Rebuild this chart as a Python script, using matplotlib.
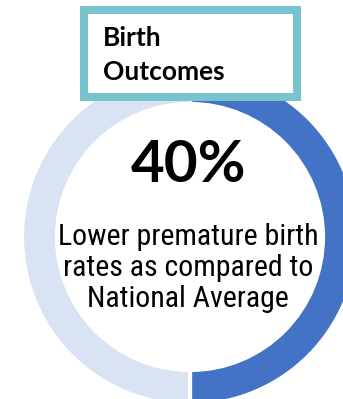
import matplotlib
matplotlib.use("Agg")
import matplotlib.pyplot as plt
from matplotlib.patches import Rectangle

# data
ring_labels = ["Lower", "Rest"]
ring_values = [50, 50]
ring_colors = ["#4472C4", "#DAE3F3"]
big_number = "40%"
caption = "Lower premature birth\nrates as compared to\nNational Average"
title = "Birth\nOutcomes"

W, H = 343, 399
fig = plt.figure(figsize=(W / 100, H / 100), dpi=100)
ax = fig.add_axes([0, 0, 1, 1])

# donut, center/radius in pixel units (y up)
cx, cy = 190, H - 237
r_out, r_in = 168, 133
ax.pie(ring_values, colors=ring_colors, startangle=90, counterclock=False,
       center=(cx, cy), radius=r_out,
       wedgeprops=dict(width=r_out - r_in, edgecolor="white", linewidth=3))
ax.set_xlim(0, W)
ax.set_ylim(0, H)
ax.set_aspect("equal")
ax.axis("off")

# title box
bx0, bx1, by0, by1 = 80, 301, H - 101, H - 6
bw = 8
ax.add_patch(Rectangle((bx0, by0), bx1 - bx0, by1 - by0, facecolor="#77C3CE",
                       edgecolor="none", zorder=5))
ax.add_patch(Rectangle((bx0 + bw, by0 + bw), bx1 - bx0 - 2 * bw, by1 - by0 - 2 * bw,
                       facecolor="white", edgecolor="none", zorder=6))
ax.text(103, H - 55, title, fontsize=19, fontweight="bold", family="Lato",
        ha="left", va="center", linespacing=1.45, zorder=7)

ax.text(189, H - 165, big_number, fontsize=42, fontweight="bold", family="Lato",
        ha="center", va="center", zorder=7)
ax.text(188, H - 268, caption, fontsize=21.5,
        family=["Roboto Condensed", "Lato"],
        ha="center", va="center", linespacing=1.12, zorder=7)

fig.savefig("out.png", dpi=100)
